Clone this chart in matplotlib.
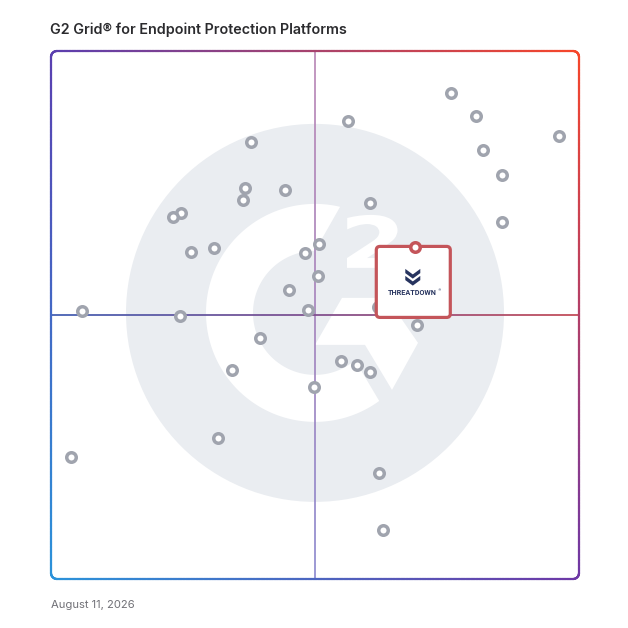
import numpy as np
import matplotlib
matplotlib.use("Agg")
import matplotlib.pyplot as plt
from matplotlib.collections import LineCollection
from matplotlib.patches import Circle, Polygon, FancyBboxPatch, PathPatch
from matplotlib.colors import to_rgb
from matplotlib.textpath import TextPath
from matplotlib.font_manager import FontProperties
from matplotlib.transforms import Affine2D

# ---------------- data (0-100 scale: satisfaction on x, market presence on y) ----------------
title = "G2 Grid® for Endpoint Protection Platforms"
date_label = "August 11, 2026"

product_x = [75.8, 80.4, 56.3, 96.3, 81.9, 37.8, 85.4, 36.7, 44.3, 36.4,
             60.4, 24.6, 23.2, 85.4, 50.8, 30.9, 26.5, 48.2, 50.6, 45.0,
             5.9, 48.7, 24.4, 69.4, 39.5, 54.9, 57.9, 60.5, 34.2, 49.8,
             31.6, 3.8, 62.2, 62.8, 62.0]
product_y = [92.1, 87.6, 86.8, 83.9, 81.3, 82.8, 76.5, 74.0, 73.7, 71.7,
             71.2, 69.3, 68.6, 67.7, 63.5, 62.6, 62.0, 61.7, 57.3, 54.7,
             50.8, 51.0, 49.9, 48.2, 45.7, 41.3, 40.5, 39.2, 39.6, 36.3,
             26.7, 23.1, 20.1, 9.2, 51.6]

highlight_label = "THREATDOWN"
highlight_x = 68.9
highlight_y = 62.8

mid_x = 50
mid_y = 50

# ---------------- figure setup ----------------
W = 628
DPI = 100
fig = plt.figure(figsize=(W / DPI, W / DPI), dpi=DPI)
fig.patch.set_facecolor("white")
L, B, S = 51, 49, 528  # axes box in pixels (left, bottom, size)
ax = fig.add_axes([L / W, B / W, S / W, S / W])
ax.set_xlim(0, 100)
ax.set_ylim(0, 100)
ax.set_axis_off()
PX = 100 / S  # data units per pixel


def px(dx, dy, cx, cy):
    """pixel offsets (dy downward) -> data coords around (cx, cy)"""
    return (cx + dx * PX, cy - dy * PX)


# ---------------- watermark (G2 logo) ----------------
wcx, wcy = 50.0, 50.4
wm_gray = "#eaedf1"
ax.add_patch(Circle((wcx, wcy), 189 * PX, fc=wm_gray, ec="none", zorder=0))
ro, ri = 109 * PX, 62 * PX
a_out = np.radians(np.linspace(76.7, 306.1, 200))
a_in = np.radians(np.linspace(310.2, 90.0, 200))
ring = np.vstack([
    np.column_stack([wcx + ro * np.cos(a_out), wcy + ro * np.sin(a_out)]),
    np.column_stack([wcx + ri * np.cos(a_in), wcy + ri * np.sin(a_in)]),
])
ax.add_patch(Polygon(ring, closed=True, fc="white", ec="none", zorder=0.5))
chev = [(27, -15), (72, -15), (103, 30), (77, 77), (50, 32), (0, 32)]
ax.add_patch(Polygon([px(a, b, wcx, wcy) for a, b in chev], closed=True,
                     fc="white", ec="none", zorder=0.5))
# the "2", fitted to its box
tp = TextPath((0, 0), "2", size=10, prop=FontProperties(family="DejaVu Sans", weight="bold"))
ext = tp.get_extents()
x0, y1 = px(32, -98, wcx, wcy)   # left / top
x1, y0 = px(83, -45, wcx, wcy)   # right / bottom
tr = (Affine2D().translate(-ext.x0, -ext.y0)
      .scale((x1 - x0) / ext.width, (y1 - y0) / ext.height)
      .translate(x0, y0))
ax.add_patch(PathPatch(tr.transform_path(tp), fc="white", ec="none", zorder=0.6))


# ---------------- gradient helpers ----------------
def gradient_line(x, y, stops, lw, z):
    pts = np.column_stack([x, y]).reshape(-1, 1, 2)
    segs = np.concatenate([pts[:-1], pts[1:]], axis=1)
    t = np.linspace(0, 1, len(segs))
    cols = np.array([to_rgb(c) for c in stops])
    st = np.linspace(0, 1, len(stops))
    rgb = np.column_stack([np.interp(t, st, cols[:, k]) for k in range(3)])
    lc = LineCollection(segs, colors=rgb, linewidths=lw, zorder=z,
                        capstyle="butt", clip_on=False)
    ax.add_collection(lc)


n = 300
gradient_line(np.full(n, mid_x), np.linspace(100, 0, n),
              ["#b985b5", "#a482bb", "#8a87ce"], 1.2, 1)
gradient_line(np.linspace(0, 100, n), np.full(n, mid_y),
              ["#4561b4", "#81508f", "#c44e5a"], 1.3, 1.1)

# ---------------- border (rounded, bilinear gradient) ----------------
r = 6 * PX
path = []
def arc(cx, cy, a0, a1):
    a = np.radians(np.linspace(a0, a1, 20))
    return list(zip(cx + r * np.cos(a), cy + r * np.sin(a)))
path += arc(r, 100 - r, 180, 90)
path += [(x, 100) for x in np.linspace(r, 100 - r, 200)]
path += arc(100 - r, 100 - r, 90, 0)
path += [(100, y) for y in np.linspace(100 - r, r, 200)]
path += arc(100 - r, r, 0, -90)
path += [(x, 0) for x in np.linspace(100 - r, r, 200)]
path += arc(r, r, 270, 180)
path += [(0, y) for y in np.linspace(r, 100 - r, 200)]
path = np.array(path)
TL, TR = np.array(to_rgb("#5a3fb0")), np.array(to_rgb("#f7462a"))
BL, BR = np.array(to_rgb("#2b93da")), np.array(to_rgb("#6e38a6"))
segs = np.stack([path[:-1], path[1:]], axis=1)
mids = segs.mean(axis=1) / 100.0
u, v = mids[:, 0:1], mids[:, 1:2]
cols = (TL * (1 - u) * v + TR * u * v + BL * (1 - u) * (1 - v) + BR * u * (1 - v))
ax.add_collection(LineCollection(segs, colors=np.clip(cols, 0, 1), linewidths=1.6,
                                 zorder=5, clip_on=False, capstyle="round"))

# ---------------- product points ----------------
ax.scatter(product_x, product_y, s=47, marker="o", facecolor="white",
           edgecolor="#a0a4ae", linewidths=2.5, zorder=3, clip_on=False)

# ---------------- highlighted product ----------------
bw, bh = 74 * PX, 71 * PX
ax.add_patch(FancyBboxPatch((highlight_x - bw / 2 - 1.5 * PX, highlight_y - bh + 1 * PX), bw, bh,
                            boxstyle="round,pad=0,rounding_size=0.7",
                            fc="white", ec="#c4555a", lw=2.3, zorder=6))
ax.scatter([highlight_x], [highlight_y], s=47, marker="o", facecolor="white",
           edgecolor="#c4555a", linewidths=2.5, zorder=7)

navy = "#27345f"
chevron = [(-7.5, 0), (0, 5.5), (7.5, 0), (7.5, 4.2), (0, 9.7), (-7.5, 4.2)]
for top in (21.5, 28.5):
    ax.add_patch(Polygon([px(a - 2, b + top, highlight_x, highlight_y) for a, b in chevron],
                         closed=True, fc=navy, ec="none", zorder=7))
lx, ly = px(-2.5, 48, highlight_x, highlight_y)
ax.text(lx, ly, highlight_label, fontsize=5.2, fontweight="bold", family="Roboto",
        color=navy, ha="center", va="baseline", zorder=7)
rx, ry = px(22.5, 44.5, highlight_x, highlight_y)
ax.text(rx, ry, "®", fontsize=2.5, family="DejaVu Sans", color=navy,
        ha="left", va="baseline", zorder=7)

# ---------------- texts ----------------
fig.text(50 / W, 1 - 34 / W, title, fontsize=10.3, fontweight="semibold",
         family=["Inter", "DejaVu Sans"], color="#2b2b2e", ha="left", va="baseline")
fig.text(51 / W, 1 - 608.5 / W, date_label, fontsize=8.1, family=["Inter", "DejaVu Sans"],
         color="#707076", ha="left", va="baseline")

fig.savefig("out.png", dpi=DPI, facecolor="white")
